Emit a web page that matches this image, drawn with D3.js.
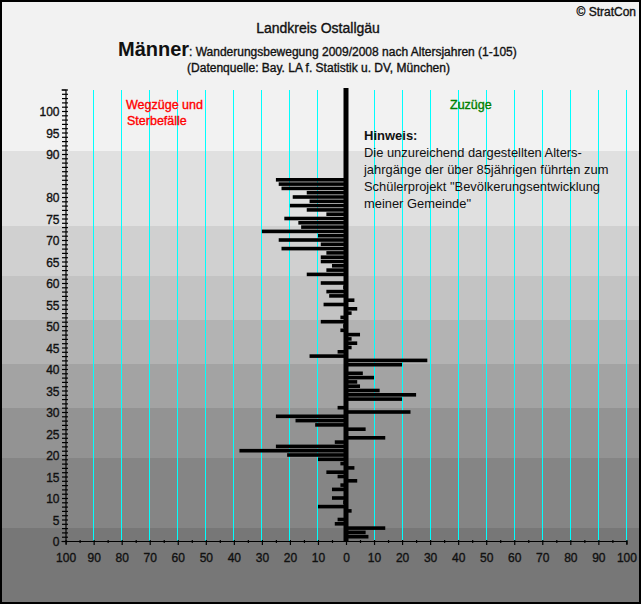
<!DOCTYPE html>
<html>
<head>
<meta charset="utf-8">
<script src="https://cdn.jsdelivr.net/npm/d3@7"></script>
<style>
  html, body { margin: 0; padding: 0; background: #fff; }
  svg { display: block; font-family: "Liberation Sans", Arial, sans-serif; }
</style>
</head>
<body>
<script>
// Alter 0, 1, 2, ... 84, ab 85 nichts mehr
var saldo = [0, 8, 7, 14, -4, -3, 0, 2, -10, -1,
             -5, 0, -5, -2, 4, -3, -7, 3, -2, -10,
             -21, -38, -25, -4, 14, 0, 7, -11, -18, -25,
             23, -3, 0, 20, 25, 12, 5, 4, 10, 6,
             0, 20, 29, -13, -3, 2, 4, 2, 5, -2,
             -1, -9, -2, 2, 4, -8, 3, -6, -7, -1,
             -9, 0, -14, -7, -5, -9, -9, -7, -23, -9,
             -24, -10, -30, -16, -17, -22, -7, -14, -20, -13,
             -19, -14, -23, -24, -25]

// Hintergrund-Streifen: Obergrenze in Altersjahren und Farbe
var band_top = [130, 90.7, 73.2, 61.6, 51.4, 41.2, 31, 19.2, 3]
var band_col = ["#f2f2f2", "#e0e0e0", "#d0d0d0", "#c3c3c3", "#b3b3b3", "#a3a3a3", "#939393", "#858585", "#777777"]

var x_ticks = d3.range(-100, 101, 5)
var x_labels = d3.range(-100, 101, 10)
var y_ticks = d3.range(0, 106)
// 85 steht im Original nicht an der Achse
var y_labels = [0, 5, 10, 15, 20, 25, 30, 35, 40, 45, 50, 55, 60, 65, 70, 75, 80, 90, 95, 100]

var hinweis = ["Die unzureichend dargestellten Alters-",
               "jahrgänge der über 85jährigen führten zum",
               "Schülerprojekt \"Bevölkerungsentwicklung",
               "meiner Gemeinde\""]

var svg_w = 642
var svg_h = 605

var svg = d3.select("body").append("svg")
    .attr("width", svg_w)
    .attr("height", svg_h)

var xscale = d3.scaleLinear().domain([-100, 100]).range([65.6, 626.4])
var yscale = d3.scaleLinear().domain([0, 105]).range([541, 89.5])

// background bands
svg.selectAll("rect.band")
    .data(band_top)
    .enter().append("rect")
    .attr("class", "band")
    .attr("x", 0)
    .attr("width", 641)
    .attr("y", d => Math.max(0, Math.round(yscale(d))))
    .attr("height", (d, i) => {
        var y0 = Math.max(0, Math.round(yscale(d)))
        var y1 = i < band_top.length - 1 ? Math.round(yscale(band_top[i + 1])) : 604
        return y1 - y0
    })
    .attr("fill", (d, i) => band_col[i])

// grid
svg.selectAll("line.grid")
    .data(x_labels.filter(d => d != 0 && d != -100))
    .enter().append("line")
    .attr("class", "grid")
    .attr("x1", d => Math.floor(xscale(d)) + 0.5)
    .attr("x2", d => Math.floor(xscale(d)) + 0.5)
    .attr("y1", 90)
    .attr("y2", yscale(0))
    .attr("stroke", "#00ffff")
    .attr("stroke-width", 1)

// bars
svg.selectAll("rect.bar")
    .data(saldo)
    .enter().append("rect")
    .attr("class", "bar")
    .attr("x", d => xscale(Math.min(d, 0)))
    .attr("width", d => Math.abs(xscale(d) - xscale(0)))
    .attr("y", (d, i) => yscale(i) - 1.8)
    .attr("height", 3.6)
    .attr("fill", "black")

// thick zero line
svg.append("line")
    .attr("x1", xscale(0))
    .attr("x2", xscale(0))
    .attr("y1", 88)
    .attr("y2", yscale(0))
    .attr("stroke", "black")
    .attr("stroke-width", 5)

// axes
var x_axis = d3.axisBottom(xscale)
    .tickValues(x_ticks)
    .tickSize(3)
    .tickFormat(d => d % 10 == 0 ? Math.abs(d) : "")
var gx = svg.append("g")
    .attr("transform", "translate(0," + Math.round(yscale(0)) + ")")
    .call(x_axis)
gx.selectAll("line").attr("stroke", "black").attr("stroke-width", 1.2)
    .attr("y1", -1).attr("y2", d => d % 10 == 0 ? 4 : 2)
gx.select(".domain").attr("stroke", "black").attr("stroke-width", 1.2)
gx.selectAll("text").attr("y", 12)

var y_axis = d3.axisLeft(yscale)
    .tickValues(y_ticks)
    .tickSize(4)
    .tickFormat(d => y_labels.includes(d) ? d : "")
var gy = svg.append("g")
    .attr("transform", "translate(65.5,0)")
    .call(y_axis)
gy.selectAll("line").attr("stroke", "black").attr("stroke-width", 1.2).attr("x2", 2.5).attr("x1", -3.5)
gy.select(".domain").attr("stroke", "black").attr("stroke-width", 1.2)
gy.selectAll("text").attr("x", -6).attr("y", 1)

svg.selectAll("g.tick text")
    .attr("font-size", 12)
    .attr("fill", "#111")
    .attr("stroke", "#111")
    .attr("stroke-width", 0.35)

// texts
function put(txt, x, y, size, weight, col, anchor) {
    return svg.append("text")
        .attr("x", x)
        .attr("y", y)
        .attr("font-size", size)
        .attr("font-weight", weight)
        .attr("fill", col)
        .attr("stroke", col)
        .attr("stroke-width", weight == "bold" ? 0 : 0.35)
        .attr("text-anchor", anchor || "start")
        .text(txt)
}

put("© StratCon", 636, 16, 12, "normal", "#111", "end")
put("Landkreis Ostallgäu", 318, 33, 14, "normal", "#111", "middle")
put("Männer", 118, 56, 20, "bold", "#111")
put(": Wanderungsbewegung 2009/2008 nach Altersjahren (1-105)", 189, 56, 12, "normal", "#111")
put("(Datenquelle: Bay. LA f. Statistik u. DV, München)", 318.5, 72, 12, "normal", "#111", "middle")

put("Wegzüge und", 126, 109, 12.5, "normal", "red")
put("Sterbefälle", 127, 125, 12.5, "normal", "red")
put("Zuzüge", 450, 109, 12.5, "normal", "green")

put("Hinweis:", 364, 140, 13, "bold", "#111")
svg.selectAll("text.hinweis")
    .data(hinweis)
    .enter().append("text")
    .attr("class", "hinweis")
    .attr("x", 364)
    .attr("y", (d, i) => 157 + i * 17)
    .attr("font-size", 12.9)
    .attr("fill", "#111")
    .text(d => d)

// frame
svg.append("rect")
    .attr("x", 1)
    .attr("y", 1)
    .attr("width", 639)
    .attr("height", 602)
    .attr("fill", "none")
    .attr("stroke", "black")
    .attr("stroke-width", 2)
</script>
</body>
</html>
